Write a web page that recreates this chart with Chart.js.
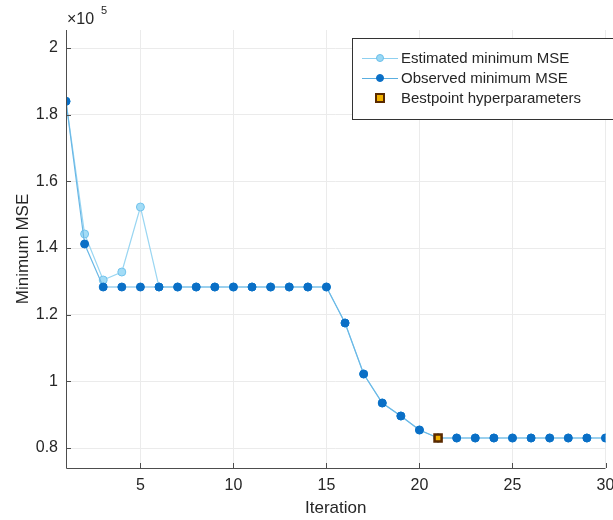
<!DOCTYPE html>
<html>
<head>
<meta charset="utf-8">
<script src="https://cdn.jsdelivr.net/npm/chart.js@4"></script>
<style>
  html, body { margin: 0; padding: 0; background: #fff; }
  #wrap { width: 613px; height: 520px; position: relative; }
</style>
</head>
<body>
<div id="wrap"><canvas id="c" width="613" height="520"></canvas></div>
<script>
// Iterations 1..30
const iterations = [1,2,3,4,5,6,7,8,9,10,11,12,13,14,15,16,17,18,19,20,21,22,23,24,25,26,27,28,29,30];

// Estimated minimum MSE (light blue)
const estimatedMSE = [184000,144200,130400,132800,152300,128300,128300,128300,128300,128300,
  128300,128300,128300,128300,128300,117500,102200,93500,89600,85400,
  83000,83000,83000,83000,83000,83000,83000,83000,83000,83000];

// Observed minimum MSE (dark blue)
const observedMSE = [184000,141200,128300,128300,128300,128300,128300,128300,128300,128300,
  128300,128300,128300,128300,128300,117500,102200,93500,89600,85400,
  83000,83000,83000,83000,83000,83000,83000,83000,83000,83000];

// Best point
const bestIteration = [21];
const bestMSE = [83000];

const xTicks = [5, 10, 15, 20, 25, 30];
const yTicks = [80000, 100000, 120000, 140000, 160000, 180000, 200000];

const toPoints = (xs, ys) => xs.map((x, i) => ({ x: x, y: ys[i] }));

const textColor = '#262626';
const fontFamily = '"Liberation Sans", Arial, Helvetica, sans-serif';

// Custom MATLAB-ish legend, exponent label, and inward tick marks
const matlabDecor = {
  id: 'matlabDecor',
  afterDraw(chart) {
    const ctx = chart.ctx;
    const area = chart.chartArea;
    const xs = chart.scales.x, ys = chart.scales.y;
    ctx.save();

    // axis lines
    ctx.strokeStyle = '#4d4d4d';
    ctx.lineWidth = 1;
    ctx.beginPath();
    ctx.moveTo(area.left + 0.5, area.top);
    ctx.lineTo(area.left + 0.5, area.bottom + 0.5);
    ctx.lineTo(area.right, area.bottom + 0.5);
    ctx.stroke();

    // inward tick marks
    ctx.beginPath();
    xTicks.forEach(v => {
      const px = Math.round(xs.getPixelForValue(v)) + 0.5;
      ctx.moveTo(px, area.bottom);
      ctx.lineTo(px, area.bottom - 5);
    });
    yTicks.forEach(v => {
      const py = Math.round(ys.getPixelForValue(v)) + 0.5;
      ctx.moveTo(area.left, py);
      ctx.lineTo(area.left + 5, py);
    });
    ctx.stroke();

    // exponent label
    ctx.fillStyle = textColor;
    ctx.textBaseline = 'alphabetic';
    ctx.font = '16px ' + fontFamily;
    ctx.fillText('\u00d710', area.left + 1, 24);
    ctx.font = '11px ' + fontFamily;
    ctx.fillText('5', area.left + 35, 14);

    // legend box
    const lx = 352, ly = 38, lw = 262, lh = 81;
    ctx.fillStyle = '#fff';
    ctx.fillRect(lx, ly, lw, lh);
    ctx.strokeStyle = '#333';
    ctx.lineWidth = 1;
    ctx.strokeRect(lx + 0.5, ly + 0.5, lw, lh);

    const rows = [
      { label: 'Estimated minimum MSE', line: '#8fd0f0', fill: '#9ad8f5', edge: '#6cc0ea', type: 'circle' },
      { label: 'Observed minimum MSE', line: '#5aaee0', fill: '#0a6fc6', edge: '#0a6fc6', type: 'circle' },
      { label: 'Bestpoint hyperparameters', line: null, fill: '#f2b200', edge: '#5a2a00', type: 'square' }
    ];
    ctx.font = '15px ' + fontFamily;
    ctx.textBaseline = 'middle';
    rows.forEach((r, i) => {
      const cy = ly + 20 + i * 20;
      if (r.line) {
        ctx.strokeStyle = r.line;
        ctx.lineWidth = 1;
        ctx.beginPath();
        ctx.moveTo(362, cy + 0.5);
        ctx.lineTo(398, cy + 0.5);
        ctx.stroke();
      }
      ctx.fillStyle = r.fill;
      ctx.strokeStyle = r.edge;
      if (r.type === 'circle') {
        ctx.beginPath();
        ctx.arc(380, cy, 3.5, 0, Math.PI * 2);
        ctx.fill();
        ctx.stroke();
      } else {
        ctx.lineWidth = 2;
        ctx.fillRect(376, cy - 4, 8, 8);
        ctx.strokeRect(376, cy - 4, 8, 8);
      }
      ctx.fillStyle = textColor;
      ctx.fillText(r.label, 401, cy + 1);
    });

    ctx.restore();
  }
};

new Chart(document.getElementById('c').getContext('2d'), {
  type: 'scatter',
  data: {
    datasets: [
      {
        label: 'Bestpoint hyperparameters',
        data: toPoints(bestIteration, bestMSE),
        pointStyle: 'rect',
        pointRadius: 5,
        pointBackgroundColor: '#f2b200',
        pointBorderColor: '#5a2a00',
        pointBorderWidth: 2.5,
        showLine: false,
        order: 0
      },
      {
        label: 'Observed minimum MSE',
        data: toPoints(iterations, observedMSE),
        showLine: true,
        borderColor: '#6ab8e6',
        borderWidth: 1.2,
        pointRadius: 4,
        pointBackgroundColor: '#0a6fc6',
        pointBorderColor: '#0a6fc6',
        pointBorderWidth: 1,
        order: 1
      },
      {
        label: 'Estimated minimum MSE',
        data: toPoints(iterations, estimatedMSE),
        showLine: true,
        borderColor: '#9ad6f2',
        borderWidth: 1.2,
        pointRadius: 4,
        pointBackgroundColor: '#a3dcf6',
        pointBorderColor: '#72c3ec',
        pointBorderWidth: 1,
        order: 2
      }
    ]
  },
  options: {
    responsive: false,
    animation: false,
    maintainAspectRatio: false,
    layout: { padding: { top: 30, right: 7, bottom: 0, left: 0 } },
    plugins: {
      legend: { display: false },
      tooltip: { enabled: false }
    },
    scales: {
      x: {
        type: 'linear',
        min: 1,
        max: 30,
        afterBuildTicks: scale => { scale.ticks = xTicks.map(v => ({ value: v })); },
        afterFit: scale => { scale.paddingLeft = 0; scale.paddingRight = 0; scale.height = 52; },
        grid: { color: '#ebebeb', drawTicks: false },
        border: { display: false },
        ticks: { color: textColor, font: { family: fontFamily, size: 16 }, padding: 8, maxRotation: 0 },
        title: { display: true, text: 'Iteration', color: textColor, font: { family: fontFamily, size: 17 }, padding: { top: 6, bottom: 1 } }
      },
      y: {
        type: 'linear',
        min: 74000,
        max: 205400,
        afterBuildTicks: scale => { scale.ticks = yTicks.map(v => ({ value: v })); },
        afterFit: scale => { scale.width = 66; scale.paddingTop = 0; scale.paddingBottom = 0; },
        grid: { color: '#ebebeb', drawTicks: false },
        border: { display: false },
        ticks: {
          color: textColor,
          font: { family: fontFamily, size: 16 },
          padding: 8,
          callback: v => String(+(v / 1e5).toFixed(1))
        },
        title: { display: true, text: 'Minimum MSE', color: textColor, font: { family: fontFamily, size: 17 }, padding: { top: 13, bottom: 4 } }
      }
    }
  },
  plugins: [matlabDecor]
});
</script>
</body>
</html>
